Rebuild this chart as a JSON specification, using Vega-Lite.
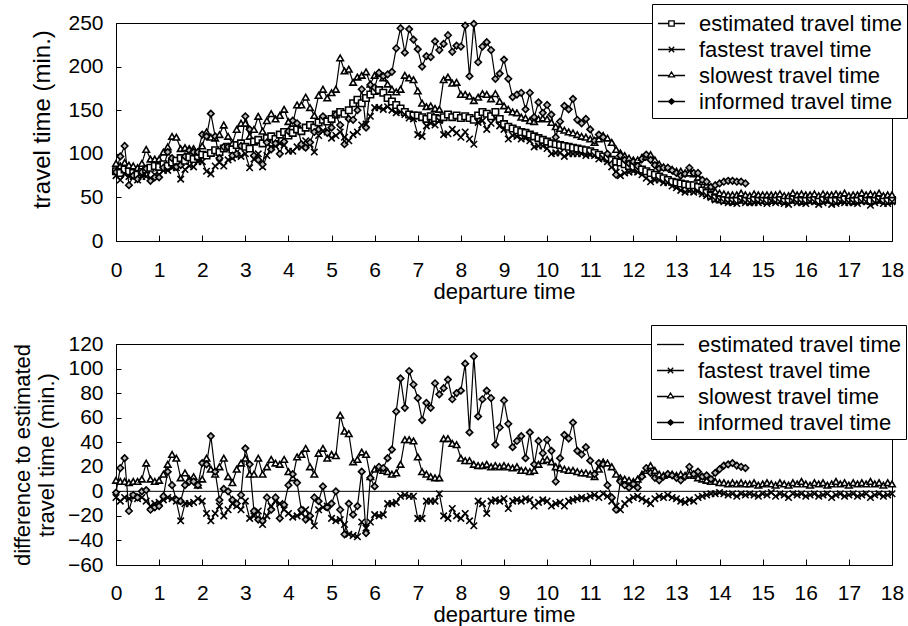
{
"$schema": "https://vega.github.io/schema/vega-lite/v6.json",
"background": "white",
"padding": {"left": 10, "top": 3, "right": 1, "bottom": 0},
"config": {
  "font": "Liberation Sans",
  "view": {"stroke": "black", "strokeWidth": 1},
  "axis": {"domainColor": "black", "domainWidth": 1, "tickColor": "black", "labelColor": "black", "titleColor": "black", "labelFontSize": 21, "titleFontSize": 22, "titleFontWeight": "normal", "grid": false, "labelFont": "Liberation Sans", "titleFont": "Liberation Sans", "labelOverlap": false},
  "legend": {"labelFont": "Liberation Sans", "labelColor": "black"}
},
"datasets": {"d": [
{"t":0,"e":80,"f":75,"s":89,"i":79,"df":-5,"ds":9,"di":-1},
{"t":0.1,"e":78,"f":70,"s":86,"i":97,"df":-8,"ds":8,"di":19},
{"t":0.2,"e":82,"f":77,"s":90,"i":109,"df":-5,"ds":8,"di":27},
{"t":0.3,"e":80,"f":74,"s":87,"i":64,"df":-6,"ds":7,"di":-16},
{"t":0.4,"e":78,"f":74,"s":86,"i":75,"df":-4,"ds":8,"di":-3},
{"t":0.5,"e":76,"f":70,"s":84,"i":71,"df":-6,"ds":8,"di":-5},
{"t":0.6,"e":79,"f":74,"s":89,"i":79,"df":-5,"ds":10,"di":0},
{"t":0.7,"e":82,"f":74,"s":105,"i":83,"df":-8,"ds":23,"di":1},
{"t":0.8,"e":84,"f":72,"s":94,"i":69,"df":-12,"ds":10,"di":-15},
{"t":0.9,"e":86,"f":76,"s":94,"i":73,"df":-10,"ds":8,"di":-13},
{"t":1.0,"e":85,"f":76,"s":94,"i":73,"df":-9,"ds":9,"di":-12},
{"t":1.1,"e":88,"f":81,"s":102,"i":84,"df":-7,"ds":14,"di":-4},
{"t":1.2,"e":86,"f":81,"s":108,"i":102,"df":-5,"ds":22,"di":16},
{"t":1.3,"e":90,"f":84,"s":120,"i":95,"df":-6,"ds":30,"di":5},
{"t":1.4,"e":92,"f":84,"s":119,"i":85,"df":-8,"ds":27,"di":-7},
{"t":1.5,"e":95,"f":71,"s":106,"i":87,"df":-24,"ds":11,"di":-8},
{"t":1.6,"e":92,"f":82,"s":107,"i":97,"df":-10,"ds":15,"di":5},
{"t":1.7,"e":96,"f":86,"s":106,"i":104,"df":-10,"ds":10,"di":8},
{"t":1.8,"e":94,"f":85,"s":106,"i":102,"df":-9,"ds":12,"di":8},
{"t":1.9,"e":97,"f":91,"s":102,"i":102,"df":-6,"ds":5,"di":5},
{"t":2.0,"e":99,"f":91,"s":109,"i":122,"df":-8,"ds":10,"di":23},
{"t":2.1,"e":98,"f":80,"s":125,"i":120,"df":-18,"ds":27,"di":22},
{"t":2.2,"e":101,"f":77,"s":119,"i":146,"df":-24,"ds":18,"di":45},
{"t":2.3,"e":104,"f":86,"s":118,"i":120,"df":-18,"ds":14,"di":16},
{"t":2.4,"e":102,"f":90,"s":122,"i":95,"df":-12,"ds":20,"di":-7},
{"t":2.5,"e":106,"f":86,"s":133,"i":108,"df":-20,"ds":27,"di":2},
{"t":2.6,"e":108,"f":93,"s":120,"i":108,"df":-15,"ds":12,"di":0},
{"t":2.7,"e":105,"f":95,"s":112,"i":98,"df":-10,"ds":7,"di":-7},
{"t":2.8,"e":110,"f":98,"s":128,"i":100,"df":-12,"ds":18,"di":-10},
{"t":2.9,"e":112,"f":97,"s":135,"i":109,"df":-15,"ds":23,"di":-3},
{"t":3.0,"e":108,"f":100,"s":135,"i":143,"df":-8,"ds":27,"di":35},
{"t":3.1,"e":106,"f":84,"s":120,"i":128,"df":-22,"ds":14,"di":22},
{"t":3.2,"e":114,"f":94,"s":128,"i":98,"df":-20,"ds":14,"di":-16},
{"t":3.3,"e":116,"f":100,"s":143,"i":93,"df":-16,"ds":27,"di":-23},
{"t":3.4,"e":112,"f":85,"s":126,"i":88,"df":-27,"ds":14,"di":-24},
{"t":3.5,"e":118,"f":98,"s":138,"i":113,"df":-20,"ds":20,"di":-5},
{"t":3.6,"e":120,"f":108,"s":146,"i":105,"df":-12,"ds":26,"di":-15},
{"t":3.7,"e":117,"f":109,"s":140,"i":112,"df":-8,"ds":23,"di":-5},
{"t":3.8,"e":122,"f":112,"s":144,"i":100,"df":-10,"ds":22,"di":-22},
{"t":3.9,"e":125,"f":110,"s":151,"i":114,"df":-15,"ds":26,"di":-11},
{"t":4.0,"e":121,"f":103,"s":137,"i":126,"df":-18,"ds":16,"di":5},
{"t":4.1,"e":124,"f":103,"s":135,"i":138,"df":-21,"ds":11,"di":14},
{"t":4.2,"e":128,"f":108,"s":156,"i":135,"df":-20,"ds":28,"di":7},
{"t":4.3,"e":126,"f":108,"s":156,"i":111,"df":-18,"ds":30,"di":-15},
{"t":4.4,"e":130,"f":115,"s":165,"i":107,"df":-15,"ds":35,"di":-23},
{"t":4.5,"e":133,"f":111,"s":153,"i":113,"df":-22,"ds":20,"di":-20},
{"t":4.6,"e":130,"f":102,"s":144,"i":125,"df":-28,"ds":14,"di":-5},
{"t":4.7,"e":136,"f":121,"s":167,"i":128,"df":-15,"ds":31,"di":-8},
{"t":4.8,"e":139,"f":126,"s":174,"i":143,"df":-13,"ds":35,"di":4},
{"t":4.9,"e":137,"f":125,"s":164,"i":124,"df":-12,"ds":27,"di":-13},
{"t":5.0,"e":140,"f":118,"s":170,"i":130,"df":-22,"ds":30,"di":-10},
{"t":5.1,"e":145,"f":121,"s":174,"i":145,"df":-24,"ds":29,"di":0},
{"t":5.2,"e":148,"f":125,"s":210,"i":133,"df":-23,"ds":62,"di":-15},
{"t":5.3,"e":146,"f":119,"s":195,"i":111,"df":-27,"ds":49,"di":-35},
{"t":5.4,"e":150,"f":115,"s":197,"i":140,"df":-35,"ds":47,"di":-10},
{"t":5.5,"e":158,"f":122,"s":182,"i":139,"df":-36,"ds":24,"di":-19},
{"t":5.6,"e":162,"f":125,"s":188,"i":150,"df":-37,"ds":26,"di":-12},
{"t":5.7,"e":158,"f":133,"s":190,"i":174,"df":-25,"ds":32,"di":16},
{"t":5.8,"e":164,"f":134,"s":194,"i":130,"df":-30,"ds":30,"di":-34},
{"t":5.9,"e":168,"f":143,"s":180,"i":179,"df":-25,"ds":12,"di":11},
{"t":6.0,"e":172,"f":153,"s":190,"i":176,"df":-19,"ds":18,"di":4},
{"t":6.1,"e":173,"f":153,"s":192,"i":193,"df":-20,"ds":19,"di":20},
{"t":6.2,"e":170,"f":151,"s":187,"i":189,"df":-19,"ds":17,"di":19},
{"t":6.3,"e":164,"f":154,"s":180,"i":191,"df":-10,"ds":16,"di":27},
{"t":6.4,"e":160,"f":150,"s":174,"i":194,"df":-10,"ds":14,"di":34},
{"t":6.5,"e":156,"f":147,"s":171,"i":221,"df":-9,"ds":15,"di":65},
{"t":6.6,"e":152,"f":148,"s":174,"i":244,"df":-4,"ds":22,"di":92},
{"t":6.7,"e":148,"f":145,"s":190,"i":216,"df":-3,"ds":42,"di":68},
{"t":6.8,"e":145,"f":141,"s":187,"i":243,"df":-4,"ds":42,"di":98},
{"t":6.9,"e":144,"f":140,"s":185,"i":231,"df":-4,"ds":41,"di":87},
{"t":7.0,"e":144,"f":122,"s":172,"i":220,"df":-22,"ds":28,"di":76},
{"t":7.1,"e":142,"f":120,"s":158,"i":200,"df":-22,"ds":16,"di":58},
{"t":7.2,"e":140,"f":132,"s":154,"i":212,"df":-8,"ds":14,"di":72},
{"t":7.3,"e":143,"f":135,"s":155,"i":211,"df":-8,"ds":12,"di":68},
{"t":7.4,"e":141,"f":133,"s":152,"i":229,"df":-8,"ds":11,"di":88},
{"t":7.5,"e":140,"f":138,"s":151,"i":219,"df":-2,"ds":11,"di":79},
{"t":7.6,"e":142,"f":122,"s":185,"i":226,"df":-20,"ds":43,"di":84},
{"t":7.7,"e":145,"f":123,"s":188,"i":236,"df":-22,"ds":43,"di":91},
{"t":7.8,"e":142,"f":128,"s":181,"i":217,"df":-14,"ds":39,"di":75},
{"t":7.9,"e":144,"f":124,"s":182,"i":224,"df":-20,"ds":38,"di":80},
{"t":8.0,"e":141,"f":119,"s":168,"i":223,"df":-22,"ds":27,"di":82},
{"t":8.1,"e":143,"f":125,"s":168,"i":247,"df":-18,"ds":25,"di":104},
{"t":8.2,"e":141,"f":117,"s":166,"i":189,"df":-24,"ds":25,"di":48},
{"t":8.3,"e":139,"f":111,"s":161,"i":249,"df":-28,"ds":22,"di":110},
{"t":8.4,"e":144,"f":136,"s":165,"i":205,"df":-8,"ds":21,"di":61},
{"t":8.5,"e":148,"f":138,"s":169,"i":223,"df":-10,"ds":21,"di":75},
{"t":8.6,"e":146,"f":128,"s":168,"i":228,"df":-18,"ds":22,"di":82},
{"t":8.7,"e":143,"f":135,"s":163,"i":219,"df":-8,"ds":20,"di":76},
{"t":8.8,"e":148,"f":141,"s":169,"i":186,"df":-7,"ds":21,"di":38},
{"t":8.9,"e":140,"f":132,"s":160,"i":192,"df":-8,"ds":20,"di":52},
{"t":9.0,"e":134,"f":128,"s":155,"i":208,"df":-6,"ds":21,"di":74},
{"t":9.1,"e":131,"f":117,"s":151,"i":186,"df":-14,"ds":20,"di":55},
{"t":9.2,"e":129,"f":121,"s":148,"i":165,"df":-8,"ds":19,"di":36},
{"t":9.3,"e":127,"f":120,"s":147,"i":168,"df":-7,"ds":20,"di":41},
{"t":9.4,"e":125,"f":117,"s":142,"i":170,"df":-8,"ds":17,"di":45},
{"t":9.5,"e":124,"f":118,"s":141,"i":151,"df":-6,"ds":17,"di":27},
{"t":9.6,"e":122,"f":115,"s":138,"i":170,"df":-7,"ds":16,"di":48},
{"t":9.7,"e":120,"f":108,"s":137,"i":142,"df":-12,"ds":17,"di":22},
{"t":9.8,"e":118,"f":109,"s":140,"i":159,"df":-9,"ds":22,"di":41},
{"t":9.9,"e":116,"f":109,"s":141,"i":147,"df":-7,"ds":25,"di":31},
{"t":10.0,"e":114,"f":106,"s":140,"i":156,"df":-8,"ds":26,"di":42},
{"t":10.1,"e":112,"f":100,"s":136,"i":145,"df":-12,"ds":24,"di":33},
{"t":10.2,"e":111,"f":101,"s":131,"i":119,"df":-10,"ds":20,"di":8},
{"t":10.3,"e":110,"f":101,"s":129,"i":137,"df":-9,"ds":19,"di":27},
{"t":10.4,"e":109,"f":97,"s":127,"i":155,"df":-12,"ds":18,"di":46},
{"t":10.5,"e":108,"f":100,"s":125,"i":151,"df":-8,"ds":17,"di":43},
{"t":10.6,"e":107,"f":100,"s":124,"i":163,"df":-7,"ds":17,"di":56},
{"t":10.7,"e":106,"f":100,"s":122,"i":139,"df":-6,"ds":16,"di":33},
{"t":10.8,"e":105,"f":100,"s":120,"i":135,"df":-5,"ds":15,"di":30},
{"t":10.9,"e":104,"f":98,"s":119,"i":140,"df":-6,"ds":15,"di":36},
{"t":11.0,"e":103,"f":99,"s":117,"i":128,"df":-4,"ds":14,"di":25},
{"t":11.1,"e":101,"f":98,"s":113,"i":115,"df":-3,"ds":12,"di":14},
{"t":11.2,"e":99,"f":94,"s":117,"i":122,"df":-5,"ds":18,"di":23},
{"t":11.3,"e":97,"f":95,"s":121,"i":119,"df":-2,"ds":24,"di":22},
{"t":11.4,"e":95,"f":91,"s":118,"i":100,"df":-4,"ds":23,"di":5},
{"t":11.5,"e":93,"f":85,"s":113,"i":88,"df":-8,"ds":20,"di":-5},
{"t":11.6,"e":91,"f":79,"s":105,"i":76,"df":-12,"ds":14,"di":-15},
{"t":11.7,"e":90,"f":75,"s":101,"i":98,"df":-15,"ds":11,"di":8},
{"t":11.8,"e":88,"f":78,"s":98,"i":93,"df":-10,"ds":10,"di":5},
{"t":11.9,"e":86,"f":79,"s":95,"i":89,"df":-7,"ds":9,"di":3},
{"t":12.0,"e":85,"f":80,"s":93,"i":91,"df":-5,"ds":8,"di":6},
{"t":12.1,"e":83,"f":79,"s":93,"i":86,"df":-4,"ds":10,"di":3},
{"t":12.2,"e":82,"f":76,"s":96,"i":94,"df":-6,"ds":14,"di":12},
{"t":12.3,"e":80,"f":72,"s":97,"i":99,"df":-8,"ds":17,"di":19},
{"t":12.4,"e":78,"f":68,"s":99,"i":93,"df":-10,"ds":21,"di":15},
{"t":12.5,"e":76,"f":70,"s":93,"i":87,"df":-6,"ds":17,"di":11},
{"t":12.6,"e":74,"f":70,"s":88,"i":83,"df":-4,"ds":14,"di":9},
{"t":12.7,"e":72,"f":67,"s":85,"i":84,"df":-5,"ds":13,"di":12},
{"t":12.8,"e":70,"f":67,"s":84,"i":84,"df":-3,"ds":14,"di":14},
{"t":12.9,"e":68,"f":63,"s":82,"i":81,"df":-5,"ds":14,"di":13},
{"t":13.0,"e":67,"f":61,"s":80,"i":78,"df":-6,"ds":13,"di":11},
{"t":13.1,"e":66,"f":58,"s":80,"i":75,"df":-8,"ds":14,"di":9},
{"t":13.2,"e":65,"f":56,"s":78,"i":77,"df":-9,"ds":13,"di":12},
{"t":13.3,"e":64,"f":57,"s":78,"i":84,"df":-7,"ds":14,"di":20},
{"t":13.4,"e":64,"f":56,"s":77,"i":78,"df":-8,"ds":13,"di":14},
{"t":13.5,"e":62,"f":57,"s":73,"i":78,"df":-5,"ds":11,"di":16},
{"t":13.6,"e":58,"f":54,"s":68,"i":70,"df":-4,"ds":10,"di":12},
{"t":13.7,"e":55,"f":52,"s":64,"i":68,"df":-3,"ds":9,"di":13},
{"t":13.8,"e":52,"f":50,"s":60,"i":62,"df":-2,"ds":8,"di":10},
{"t":13.9,"e":49,"f":47,"s":57,"i":64,"df":-2,"ds":8,"di":15},
{"t":14.0,"e":48,"f":47,"s":55,"i":66,"df":-1,"ds":7,"di":18},
{"t":14.1,"e":47,"f":45,"s":54,"i":68,"df":-2,"ds":7,"di":21},
{"t":14.2,"e":47,"f":44,"s":53,"i":69,"df":-3,"ds":6,"di":22},
{"t":14.3,"e":46,"f":44,"s":53,"i":69,"df":-2,"ds":7,"di":23},
{"t":14.4,"e":47,"f":43,"s":53,"i":68,"df":-4,"ds":6,"di":21},
{"t":14.5,"e":48,"f":46,"s":55,"i":68,"df":-2,"ds":7,"di":20},
{"t":14.6,"e":47,"f":44,"s":53,"i":66,"df":-3,"ds":6,"di":19},
{"t":14.7,"e":46,"f":44,"s":52,"df":-2,"ds":6},
{"t":14.8,"e":47,"f":44,"s":54,"df":-3,"ds":7},
{"t":14.9,"e":48,"f":44,"s":53,"df":-4,"ds":5},
{"t":15.0,"e":47,"f":45,"s":53,"df":-2,"ds":6},
{"t":15.1,"e":46,"f":43,"s":53,"df":-3,"ds":7},
{"t":15.2,"e":47,"f":46,"s":53,"df":-1,"ds":6},
{"t":15.3,"e":48,"f":44,"s":53,"df":-4,"ds":5},
{"t":15.4,"e":47,"f":45,"s":54,"df":-2,"ds":7},
{"t":15.5,"e":46,"f":43,"s":52,"df":-3,"ds":6},
{"t":15.6,"e":47,"f":42,"s":52,"df":-5,"ds":5},
{"t":15.7,"e":48,"f":46,"s":55,"df":-2,"ds":7},
{"t":15.8,"e":47,"f":44,"s":53,"df":-3,"ds":6},
{"t":15.9,"e":46,"f":44,"s":54,"df":-2,"ds":8},
{"t":16.0,"e":47,"f":43,"s":53,"df":-4,"ds":6},
{"t":16.1,"e":48,"f":45,"s":53,"df":-3,"ds":5},
{"t":16.2,"e":47,"f":45,"s":54,"df":-2,"ds":7},
{"t":16.3,"e":46,"f":42,"s":52,"df":-4,"ds":6},
{"t":16.4,"e":47,"f":44,"s":54,"df":-3,"ds":7},
{"t":16.5,"e":48,"f":46,"s":53,"df":-2,"ds":5},
{"t":16.6,"e":47,"f":42,"s":53,"df":-5,"ds":6},
{"t":16.7,"e":46,"f":43,"s":54,"df":-3,"ds":8},
{"t":16.8,"e":47,"f":45,"s":53,"df":-2,"ds":6},
{"t":16.9,"e":48,"f":44,"s":55,"df":-4,"ds":7},
{"t":17.0,"e":47,"f":44,"s":52,"df":-3,"ds":5},
{"t":17.1,"e":46,"f":44,"s":53,"df":-2,"ds":7},
{"t":17.2,"e":47,"f":43,"s":53,"df":-4,"ds":6},
{"t":17.3,"e":48,"f":45,"s":55,"df":-3,"ds":7},
{"t":17.4,"e":47,"f":45,"s":53,"df":-2,"ds":6},
{"t":17.5,"e":46,"f":41,"s":54,"df":-5,"ds":8},
{"t":17.6,"e":47,"f":44,"s":53,"df":-3,"ds":6},
{"t":17.7,"e":48,"f":46,"s":55,"df":-2,"ds":7},
{"t":17.8,"e":47,"f":43,"s":52,"df":-4,"ds":5},
{"t":17.9,"e":46,"f":43,"s":53,"df":-3,"ds":7},
{"t":18.0,"e":47,"f":45,"s":53,"df":-2,"ds":6}
]},
"bounds": "flush",
"spacing": 103,
"resolve": {"scale": {"x": "independent", "y": "independent", "shape": "independent", "fill": "independent"}, "legend": {"shape": "independent"}},
"vconcat": [
{
  "width": 776, "height": 218,
  "resolve": {"scale": {"shape": "independent", "fill": "independent"}},
  "layer": [
    {"data": {"name": "d"},
     "transform": [{"fold": ["e", "f", "s", "i"], "as": ["k", "v"]}, {"filter": "isValid(datum.v)"}],
     "mark": {"type": "line", "color": "black", "strokeWidth": 1.2},
     "encoding": {
       "x": {"field": "t", "type": "quantitative", "scale": {"domain": [0, 18], "nice": false},
             "axis": {"values": [0,0.5,1,1.5,2,2.5,3,3.5,4,4.5,5,5.5,6,6.5,7,7.5,8,8.5,9,9.5,10,10.5,11,11.5,12,12.5,13,13.5,14,14.5,15,15.5,16,16.5,17,17.5,18],
                      "labelExpr": "datum.value % 1 === 0 ? format(datum.value, 'd') : ''", "tickSize": -6, "labelPadding": 24, "labelFlush": false, "labelOverlap": false, "title": "departure time", "titlePadding": 1}},
       "y": {"field": "v", "type": "quantitative", "scale": {"domain": [0, 250], "nice": false},
             "axis": {"values": [0, 50, 100, 150, 200, 250], "tickSize": -5, "labelPadding": 18, "labelOverlap": false, "title": "travel time (min.)", "titleFontSize": 24, "titlePadding": 13, "titleY": 96}},
       "detail": {"field": "k"}
     }},
    {"data": {"name": "d"},
     "transform": [{"fold": ["e", "f", "s", "i"], "as": ["k", "v"]}, {"filter": "isValid(datum.v)"}],
     "mark": {"type": "point", "color": "black", "filled": false, "size": 42, "strokeWidth": 1.6, "opacity": 1},
     "encoding": {
       "x": {"field": "t", "type": "quantitative"},
       "y": {"field": "v", "type": "quantitative"},
       "fill": {"field": "k", "type": "nominal", "scale": {"domain": ["e", "f", "s", "i"], "range": ["white", "white", "white", "#bbbbbb"]}, "legend": null},
       "shape": {"field": "k", "type": "nominal", "scale": {"domain": ["e", "f", "s", "i"], "range": ["square", "M-1,-1L1,1M-1,1L1,-1", "triangle-up", "diamond"]}, "legend": null}
     }},
    {"data": {"values": []},
     "mark": {"type": "point", "color": "black", "filled": false, "opacity": 1, "strokeWidth": 1.3},
     "encoding": {
       "shape": {"field": "k", "type": "nominal", "scale": {"domain": ["e", "f", "s", "i"], "range": ["M-1,0H-0.2M0.2,0H1M-0.2,-0.2H0.2V0.2H-0.2Z", "M-1,0H1M-0.2,-0.2L0.2,0.2M-0.2,0.2L0.2,-0.2", "M-1,0H-0.22M0.22,0H1M0,-0.26L0.22,0.1H-0.22Z", "M-1,0H1M0,-0.2L0.22,0L0,0.2L-0.22,0ZM0,-0.1L0.11,0L0,0.1L-0.11,0Z"]},
         "legend": {"orient": "none", "legendX": 536, "legendY": -19, "title": null, "direction": "vertical",
           "labelExpr": "datum.label === 'e' ? 'estimated travel time' : datum.label === 'f' ? 'fastest travel time' : datum.label === 's' ? 'slowest travel time' : 'informed travel time'",
           "labelFontSize": 22, "labelLimit": 400, "labelOffset": 13, "symbolSize": 729, "symbolStrokeWidth": 1.3, "symbolStrokeColor": "black",
           "strokeColor": "black", "fillColor": "white", "padding": 5, "rowPadding": 0}}
     }}
  ]
},
{
  "width": 776, "height": 221,
  "resolve": {"scale": {"shape": "independent", "fill": "independent"}, "axis": {"y": "independent"}},
  "layer": [
    {"data": {"name": "d"},
     "transform": [{"fold": ["df", "ds", "di"], "as": ["k", "v"]}, {"filter": "isValid(datum.v)"}],
     "mark": {"type": "line", "color": "black", "strokeWidth": 1.2},
     "encoding": {
       "x": {"field": "t", "type": "quantitative", "scale": {"domain": [0, 18], "nice": false},
             "axis": {"values": [0,0.5,1,1.5,2,2.5,3,3.5,4,4.5,5,5.5,6,6.5,7,7.5,8,8.5,9,9.5,10,10.5,11,11.5,12,12.5,13,13.5,14,14.5,15,15.5,16,16.5,17,17.5,18],
                      "labelExpr": "datum.value % 1 === 0 ? format(datum.value, 'd') : ''", "tickSize": -6, "labelPadding": 23, "labelFlush": false, "labelOverlap": false, "title": "departure time", "titlePadding": 1}},
       "y": {"field": "v", "type": "quantitative", "scale": {"domain": [-60, 120], "nice": false},
             "axis": {"orient": "left", "values": [-60, -20, 20, 60, 100], "tickSize": -5, "labelPadding": 18, "labelOverlap": false, "title": ["difference to estimated", "travel time (min.)"], "titlePadding": 9, "titleLineHeight": 24}},
       "detail": {"field": "k"}
     }},
    {"data": {"values": [{}]},
     "mark": {"type": "rule", "color": "black", "strokeWidth": 1},
     "encoding": {"y": {"datum": 0, "type": "quantitative",
       "axis": {"orient": "left", "values": [-40, 0, 40, 80, 120], "tickSize": -5, "labelPadding": 18, "labelOverlap": false, "domain": false, "title": null}}}},
    {"data": {"name": "d"},
     "transform": [{"fold": ["df", "ds", "di"], "as": ["k", "v"]}, {"filter": "isValid(datum.v)"}],
     "mark": {"type": "point", "color": "black", "filled": false, "size": 42, "strokeWidth": 1.6, "opacity": 1},
     "encoding": {
       "x": {"field": "t", "type": "quantitative"},
       "y": {"field": "v", "type": "quantitative", "axis": null},
       "fill": {"field": "k", "type": "nominal", "scale": {"domain": ["df", "ds", "di"], "range": ["white", "white", "#bbbbbb"]}, "legend": null},
       "shape": {"field": "k", "type": "nominal", "scale": {"domain": ["df", "ds", "di"], "range": ["M-1,-1L1,1M-1,1L1,-1", "triangle-up", "diamond"]}, "legend": null}
     }},
    {"data": {"values": []},
     "mark": {"type": "point", "color": "black", "filled": false, "opacity": 1, "strokeWidth": 1.3},
     "encoding": {
       "shape": {"field": "k", "type": "nominal", "scale": {"domain": ["d0", "df", "ds", "di"], "range": ["M-1,0H1", "M-1,0H1M-0.2,-0.2L0.2,0.2M-0.2,0.2L0.2,-0.2", "M-1,0H-0.22M0.22,0H1M0,-0.26L0.22,0.1H-0.22Z", "M-1,0H1M0,-0.2L0.22,0L0,0.2L-0.22,0ZM0,-0.1L0.11,0L0,0.1L-0.11,0Z"]},
         "legend": {"orient": "none", "legendX": 535, "legendY": -19, "title": null, "direction": "vertical",
           "labelExpr": "datum.label === 'd0' ? 'estimated travel time' : datum.label === 'df' ? 'fastest travel time' : datum.label === 'ds' ? 'slowest travel time' : 'informed travel time'",
           "labelFontSize": 22, "labelLimit": 400, "labelOffset": 13, "symbolSize": 729, "symbolStrokeWidth": 1.3, "symbolStrokeColor": "black",
           "strokeColor": "black", "fillColor": "white", "padding": 5, "rowPadding": 0}}
     }}
  ]
}
]
}
